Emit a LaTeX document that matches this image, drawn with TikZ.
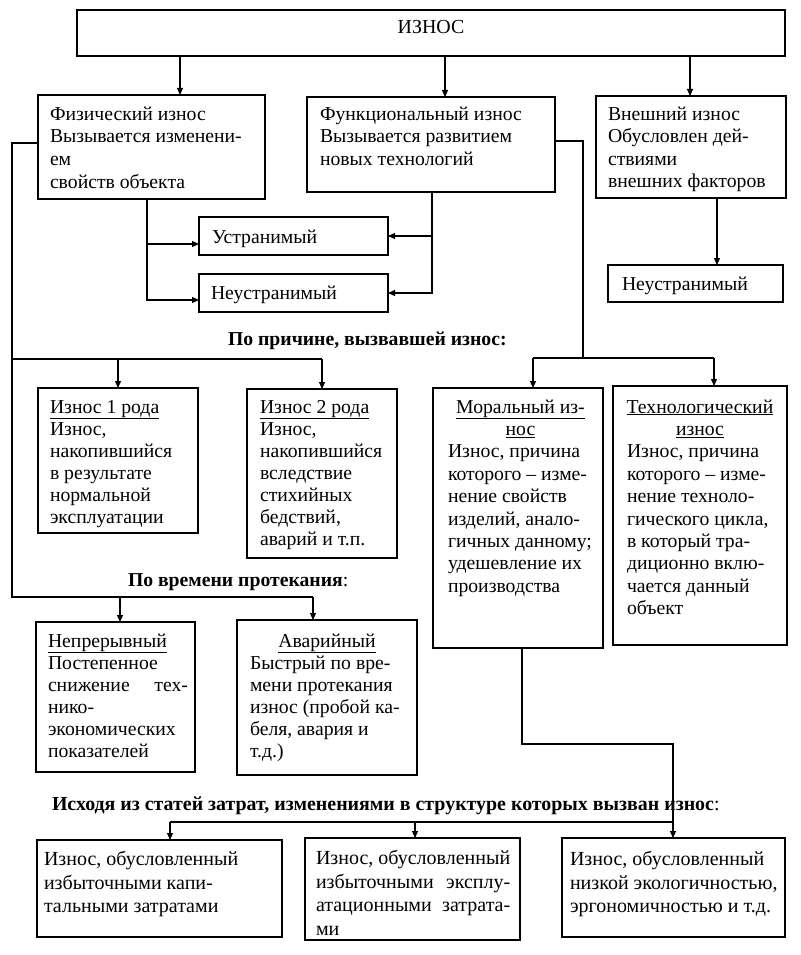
\documentclass[tikz,border=0pt]{standalone}
\usepackage{fontspec}
\setmainfont{Liberation Serif}
\usetikzlibrary{arrows.meta,calc}
\newlength\bwlen
\newcommand\myfst{\rule{0pt}{13.5pt}}
\begin{document}
\settowidth{\bwlen}{\fontsize{20}{23.5}\selectfont Износ, обусловленный}
\begin{tikzpicture}[x=1pt,y=-1pt,
  box/.style={draw, line width=1.4pt, inner sep=0pt, outer sep=0pt, anchor=north west},
  txt/.style={anchor=north west, inner sep=0pt, outer sep=0pt, align=left, font=\fontsize{19.7}{22.4}\selectfont},
  txtb/.style={txt, font=\fontsize{19.7}{22}\selectfont},
  txtc/.style={txt, font=\fontsize{20}{23.5}\selectfont},
  one/.style={anchor=base west, inner sep=0pt, outer sep=0pt, font=\fontsize{19.7}{22}\selectfont},
  lbl/.style={anchor=base west, inner sep=0pt, outer sep=0pt, font=\fontsize{19.7}{22}\selectfont\bfseries},
  conn/.style={line width=1.1pt},
  arr/.style={line width=1.1pt, -{Triangle[length=7pt,width=6pt]}}
]
\useasboundingbox[fill=white] (0,0) rectangle (800,955);

% boxes
\node[box, minimum width=708pt, minimum height=46pt] (top) at (77,10) {};
\node[box, minimum width=227pt, minimum height=104pt] (fiz) at (38,95) {};
\node[box, minimum width=248pt, minimum height=95pt] (fun) at (307,97) {};
\node[box, minimum width=190pt, minimum height=102pt] (vne) at (596,96) {};
\node[box, minimum width=189pt, minimum height=38pt] (ustr) at (199,217) {};
\node[box, minimum width=189pt, minimum height=38pt] (neustr) at (199,274) {};
\node[box, minimum width=175pt, minimum height=37pt] (neustrb) at (608,265) {};
\node[box, minimum width=160pt, minimum height=145pt] (ia) at (38,388) {};
\node[box, minimum width=150pt, minimum height=169pt] (ib) at (247,389) {};
\node[box, minimum width=170pt, minimum height=260pt] (mor) at (433,388) {};
\node[box, minimum width=174pt, minimum height=259pt] (teh) at (613,386) {};
\node[box, minimum width=159pt, minimum height=150pt] (nep) at (36,622) {};
\node[box, minimum width=180pt, minimum height=155pt] (avr) at (237,620) {};
\node[box, minimum width=245pt, minimum height=97pt] (ba) at (37,840) {};
\node[box, minimum width=215pt, minimum height=102pt] (bb) at (305,838) {};
\node[box, minimum width=223pt, minimum height=99pt] (bc) at (562,838) {};

% texts
\node[anchor=base, inner sep=0pt, font=\fontsize{19.9}{22}\selectfont] (ttop) at (431,34) {ИЗНОС};
\node[txt, font=\fontsize{19.7}{22.7}\selectfont] (tfiz) at (50,106.5) {\myfst Физический износ\\Вызывается изменени-\\ем\\свойств объекта};
\node[txt, font=\fontsize{19.7}{22.7}\selectfont] (tfun) at (320,106.5) {\myfst Функциональный износ\\Вызывается развитием\\новых технологий};
\node[txt, font=\fontsize{19.7}{22.5}\selectfont] (tvne) at (608,106.5) {\myfst Внешний износ\\Обусловлен дей-\\ствиями\\внешних факторов};
\node[one] (tustr) at (212,243) {Устранимый};
\node[one] (tneustr) at (211,299) {Неустранимый};
\node[one] (tneustrb) at (622,290) {Неустранимый};

\node[txtb] (tia) at (50,399.5) {\myfst\underline{Износ 1 рода}\\Износ,\\накопившийся\\в результате\\нормальной\\эксплуатации};
\node[txtb] (tib) at (260,399.5) {\myfst\underline{Износ 2 рода}\\Износ,\\накопившийся\\вследствие\\стихийных\\бедствий,\\аварий и т.п.};
\node[txt] (tmor) at (448,399.5) {\myfst\makebox[145pt][c]{\underline{Моральный из-}}\\\makebox[145pt][c]{\underline{нос}}\\Износ, причина\\которого – изме-\\нение свойств\\изделий, анало-\\гичных данному;\\удешевление их\\производства};
\node[txt] (tteh) at (627,399.5) {\myfst\makebox[146pt][c]{\underline{Технологический}}\\\makebox[146pt][c]{\underline{износ}}\\Износ, причина\\которого – изме-\\нение техноло-\\гического цикла,\\в который тра-\\диционно вклю-\\чается данный\\объект};
\node[txtb] (tnep) at (48,633.5) {\myfst\underline{Непрерывный}\\Постепенное\\\makebox[140pt][s]{снижение тех-}\\нико-\\экономических\\показателей};
\node[txtb] (tavr) at (250,633.5) {\myfst\makebox[154pt][c]{\underline{Аварийный}}\\Быстрый по вре-\\мени протекания\\износ (пробой ка-\\беля, авария и\\т.д.)};
\node[txtc] (tba) at (44,851.5) {\myfst Износ, обусловленный\\избыточными капи-\\тальными затратами};
\node[txtc] (tbb) at (316,850.5) {\myfst Износ, обусловленный\\\makebox[\bwlen][s]{избыточными эксплу-}\\\makebox[\bwlen][s]{атационными затрата-}\\ми};
\node[txtc] (tbc) at (570,851.5) {\myfst Износ, обусловленный\\низкой экологичностью,\\эргономичностью и т.д.};

% labels
\node[lbl] (lab1) at (228,345) {По причине, вызвавшей износ:};
\node[lbl] (lab2) at (128,586) {По времени протекания\mdseries:};
\node[lbl, font=\fontsize{19.9}{22}\selectfont\bfseries] (lab3) at (52,810) {Исходя из статей затрат, изменениями в структуре которых вызван износ\mdseries:};

% coordinates
\coordinate (xa) at (180,0);
\coordinate (xb) at (445,0);
\coordinate (xc) at (690,0);
\coordinate (xd) at (147,0);
\coordinate (xe) at (432,0);
\coordinate (xf) at (717,0);
\coordinate (ua) at ($(ustr.west)+(0,8)$);
\coordinate (na) at ($(neustr.west)+(0,7)$);
\coordinate (lA) at (12,143);
\coordinate (lB) at (12,359);
\coordinate (lC) at (12,597);
\coordinate (xg) at (118,0);
\coordinate (xh) at (322,0);
\coordinate (xi) at (120,0);
\coordinate (xj) at (313,0);
\coordinate (rA) at (583,141);
\coordinate (rB) at (583,358);
\coordinate (xk) at (533,0);
\coordinate (xl) at (714,0);
\coordinate (mA) at (522,744);
\coordinate (mB) at (673,744);
\coordinate (bar) at (170,822);
\coordinate (xm) at (415,0);

% connectors
\draw[arr] (top.south -| xa) -- (fiz.north -| xa);
\draw[arr] (top.south -| xb) -- (fun.north -| xb);
\draw[arr] (top.south -| xc) -- (vne.north -| xc);
\draw[arr] (fiz.south -| xd) |- (ua);
\draw[arr] (fiz.south -| xd) |- (na);
\draw[arr] (fun.south -| xe) |- (ustr.east);
\draw[arr] (fun.south -| xe) |- (neustr.east);
\draw[arr] (vne.south -| xf) -- (neustrb.north -| xf);

\draw[conn] (fiz.west |- lA) -- (lA) -- (lC) -- (lC -| xj);
\draw[conn] (lB) -- (lB -| xh);
\draw[arr] (lB -| xg) -- (ia.north -| xg);
\draw[arr] (lB -| xh) -- (ib.north -| xh);
\draw[arr] (lC -| xi) -- (nep.north -| xi);
\draw[arr] (lC -| xj) -- (avr.north -| xj);

\draw[conn] (fun.east |- rA) -- (rA) -- (rB);
\draw[conn] (rB -| xk) -- (rB -| xl);
\draw[arr] (rB -| xk) -- (mor.north -| xk);
\draw[arr] (rB -| xl) -- (teh.north -| xl);

\draw[arr] (mor.south -| mA) -- (mA) -- (mB) -- (bc.north -| mB);
\draw[conn] (bar) -- (bar -| mB);
\draw[arr] (bar) -- (ba.north -| bar);
\draw[arr] (bar -| xm) -- (bb.north -| xm);
\end{tikzpicture}
\end{document}
